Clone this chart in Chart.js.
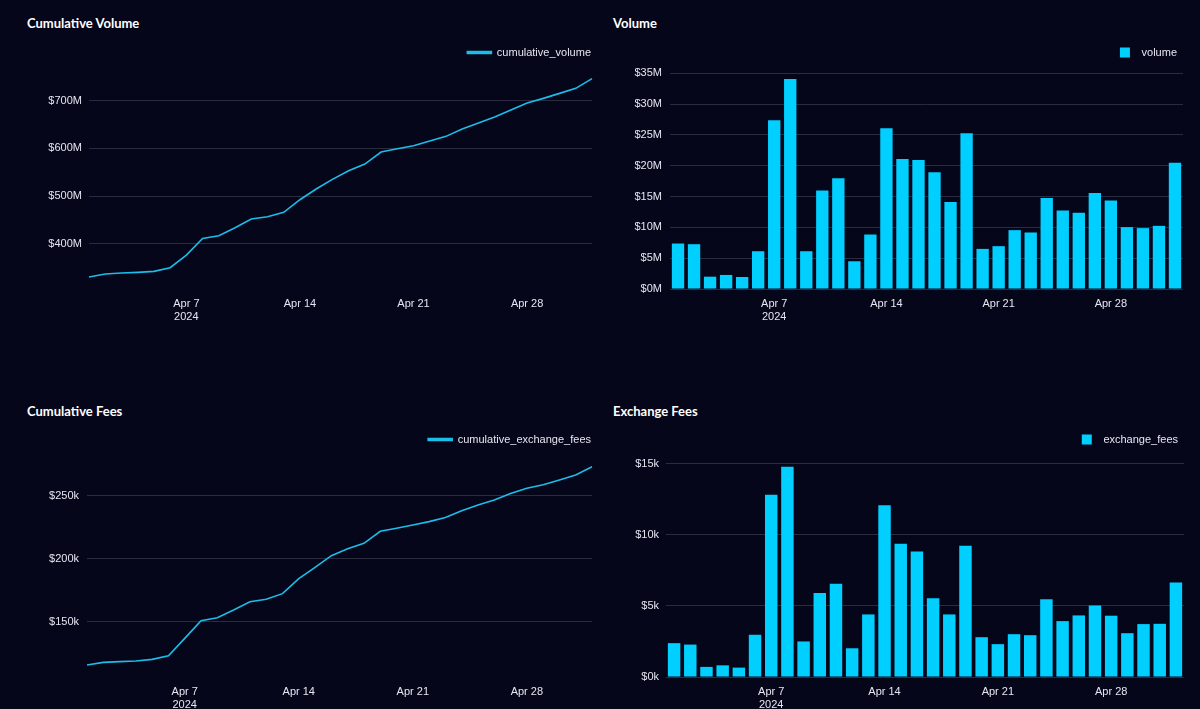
<!DOCTYPE html>
<html>
<head>
<meta charset="utf-8">
<script src="https://cdn.jsdelivr.net/npm/chart.js@4"></script>
<style>
  html, body { margin: 0; padding: 0; background: #05061a; width: 1200px; height: 709px; overflow: hidden; }
  .title { position: absolute; color: #ffffff; font: bold 13px Lato, "Open Sans", sans-serif; line-height: 16px; }
  canvas { position: absolute; }
</style>
</head>
<body>
<div class="title" style="left:27px; top:15px">Cumulative Volume</div>
<div class="title" style="left:613px; top:15px">Volume</div>
<div class="title" style="left:27px; top:403px">Cumulative Fees</div>
<div class="title" style="left:613px; top:403px">Exchange Fees</div>

<canvas id="cumVolume" width="580" height="288" style="left:20px; top:41px"></canvas>
<canvas id="volume" width="600" height="288" style="left:600px; top:41px"></canvas>
<canvas id="cumFees" width="580" height="289" style="left:20px; top:428px"></canvas>
<canvas id="fees" width="600" height="289" style="left:600px; top:428px"></canvas>

<script>
const dates = ['Apr 1','Apr 2','Apr 3','Apr 4','Apr 5','Apr 6','Apr 7','Apr 8','Apr 9','Apr 10',
  'Apr 11','Apr 12','Apr 13','Apr 14','Apr 15','Apr 16','Apr 17','Apr 18','Apr 19','Apr 20',
  'Apr 21','Apr 22','Apr 23','Apr 24','Apr 25','Apr 26','Apr 27','Apr 28','Apr 29','Apr 30','May 1','May 2']
const shownDates = ['Apr 7','Apr 14','Apr 21','Apr 28']

// millions of $
const cumulativeVolume = [330, 336.4, 338.5, 339.9, 342, 349.7, 376.2, 411.2, 416.8, 433.6, 451.7, 456.6, 465.7, 492.3, 514.7, 535,
  553.1, 567.1, 592.3, 599.3, 605.6, 615.4, 625.2, 640.6, 653.1, 665.7, 680.4, 695.1, 704.9, 715.4, 725.9, 746.2]
const volume = [7.38, 7.27, 2.0, 2.28, 1.95, 6.13, 27.4, 34.07, 6.13, 16.0, 17.96, 4.5, 8.84, 26.1, 21.1, 20.94,
  18.94, 14.1, 25.28, 6.51, 6.95, 9.55, 9.17, 14.76, 12.75, 12.37, 15.57, 14.38, 10.04, 9.88, 10.25, 20.5]
// thousands of $
const cumulativeFees = [115.5, 117.6, 118.2, 118.7, 120.0, 122.9, 136.7, 150.8, 153.2, 159.3, 165.9, 167.8, 172.3, 184.2, 193.2, 202.5,
  208.1, 212.3, 221.9, 224.3, 226.9, 229.6, 232.8, 238.3, 242.8, 246.8, 251.9, 256.1, 259, 262.7, 266.7, 273.3]
const exchangeFees = [2.38, 2.28, 0.71, 0.82, 0.66, 2.97, 12.81, 14.79, 2.5, 5.91, 6.55, 2.02, 4.4, 12.08, 9.37, 8.83,
  5.53, 4.4, 9.23, 2.8, 2.31, 3.01, 2.94, 5.46, 3.93, 4.33, 5.02, 4.31, 3.08, 3.72, 3.74, 6.64]

const cumVolumeTicks = [400, 500, 600, 700]
const volumeTicks = [0, 5, 10, 15, 20, 25, 30, 35]
const cumFeesTicks = [150, 200, 250]
const feesTicks = [0, 5, 10, 15]

const textColor = '#e6e6f0'
const gridColor = '#2a2c3d'
const lineColor = '#1cbde8'
const barColor = '#00cfff'
const tickFont = { family: '"Liberation Sans", Arial, sans-serif', size: 11 }

Chart.defaults.color = textColor
Chart.defaults.font = tickFont

function makeChart(id, cfg) {
  const isBar = cfg.type === 'bar'
  return new Chart(document.getElementById(id).getContext('2d'), {
    type: cfg.type,
    data: {
      labels: dates,
      datasets: [{
        label: isBar ? '  ' + cfg.label : cfg.label,
        data: cfg.data,
        borderColor: lineColor,
        backgroundColor: isBar ? barColor : lineColor,
        borderWidth: isBar ? 0 : 1.6,
        pointRadius: 0,
        tension: 0,
        barPercentage: 0.77,
        categoryPercentage: 1
      }]
    },
    options: {
      responsive: false,
      animation: false,
      layout: { padding: { top: 0, right: cfg.padRight, bottom: 0, left: 0 } },
      plugins: {
        tooltip: { enabled: false },
        legend: {
          align: 'end',
          labels: {
            color: textColor,
            font: tickFont,
            padding: 6,
            boxWidth: isBar ? 10 : 24,
            boxHeight: isBar ? 10 : 2
          }
        }
      },
      scales: {
        x: {
          offset: isBar,
          grid: { display: false, drawTicks: false },
          border: { display: false },
          afterFit: (scale) => { scale.height = 40 },
          ticks: {
            autoSkip: false,
            maxRotation: 0,
            padding: 8,
            color: textColor,
            callback: function (value) {
              const label = this.getLabelForValue(value)
              if (!shownDates.includes(label)) return ''
              return label === 'Apr 7' ? [label, '2024'] : label
            }
          }
        },
        y: {
          min: cfg.min,
          max: cfg.max,
          grid: { color: gridColor, drawTicks: false, lineWidth: 1 },
          border: { display: false },
          afterFit: (scale) => { scale.width = cfg.axisWidth },
          afterBuildTicks: (scale) => { scale.ticks = cfg.ticks.map(v => ({ value: v })) },
          ticks: {
            padding: cfg.tickPad,
            color: textColor,
            callback: (v) => '$' + v + cfg.unit
          }
        }
      }
    }
  })
}

const cumVolumeChart = makeChart('cumVolume', {
  type: 'line', label: 'cumulative_volume', data: cumulativeVolume, ticks: cumVolumeTicks,
  min: 305.0, max: 768.6, unit: 'M', axisWidth: 69, tickPad: 7, padRight: 3
})
const volumeChart = makeChart('volume', {
  type: 'bar', label: 'volume', data: volume, ticks: volumeTicks,
  min: 0, max: 35.86, unit: 'M', axisWidth: 70, tickPad: 8, padRight: 17
})
const cumFeesChart = makeChart('cumFees', {
  type: 'line', label: 'cumulative_exchange_fees', data: cumulativeFees, ticks: cumFeesTicks,
  min: 106.0, max: 282.6, unit: 'k', axisWidth: 67, tickPad: 8, padRight: 3
})
const feesChart = makeChart('fees', {
  type: 'bar', label: 'exchange_fees', data: exchangeFees, ticks: feesTicks,
  min: 0, max: 15.61, unit: 'k', axisWidth: 66, tickPad: 7, padRight: 16
})
</script>
</body>
</html>
